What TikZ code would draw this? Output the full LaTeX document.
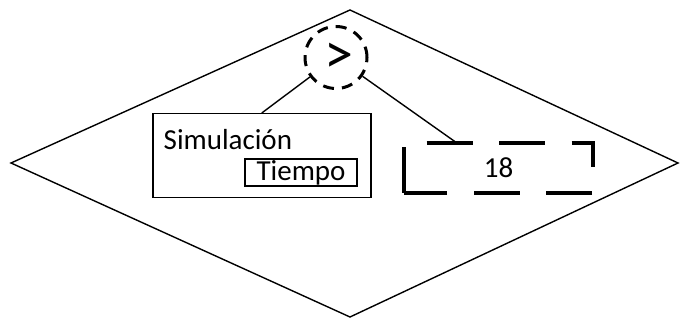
\documentclass[tikz,border=0pt]{standalone}
\usepackage{fontspec}
\setmainfont{Carlito}
\usetikzlibrary{calc}

\begin{document}
\begin{tikzpicture}
	[x=1pt,y=-1pt,line width=1.4pt,
		op node/.style={circle,draw,line width=3pt,dash pattern=on 11pt off 8pt,minimum size=62pt,inner sep=0pt},
		box node/.style={rectangle,draw,line width=1.5pt,inner sep=0pt},
		val node/.style={rectangle,inner sep=0pt,outer sep=0pt,minimum width=189pt,minimum height=50pt},
		word/.style={font=\fontsize{29}{29}\selectfont}]

	\useasboundingbox (0,0) rectangle (681,320);

	% rombo de fondo
	\draw (350,10) -- (678,163) -- (350,317) -- (11,163) -- cycle;

	\node[op node] (op) at (336,57.5) {};
	\node[font=\fontsize{58}{58}\selectfont,inner sep=0pt] (optxt) at (339,58) {>};
	\node[box node,anchor=north west,minimum width=218pt,minimum height=84pt] (sim) at (152,113) {};
	\node[word,anchor=base west,inner sep=0pt] (simtxt) at (163,150) {Simulación};
	\node[box node,word,line width=1.2pt,minimum width=112pt,minimum height=27pt] (tiempo) at (301,172.5) {Tiempo};
	\node[val node,word] (val) at (498.5,168) {18};

	% borde discontinuo del valor
	\draw[line width=4.5pt,dash pattern=on 46pt off 26.5pt]
	(val.south west) -- (val.north west) -- (val.north east) -- (val.south east) -- cycle;

	\path[draw]
	(op) -- (sim.north)
	(op) -- ($(val.north west)!0.28!(val.north east)$);
\end{tikzpicture}
\end{document}
